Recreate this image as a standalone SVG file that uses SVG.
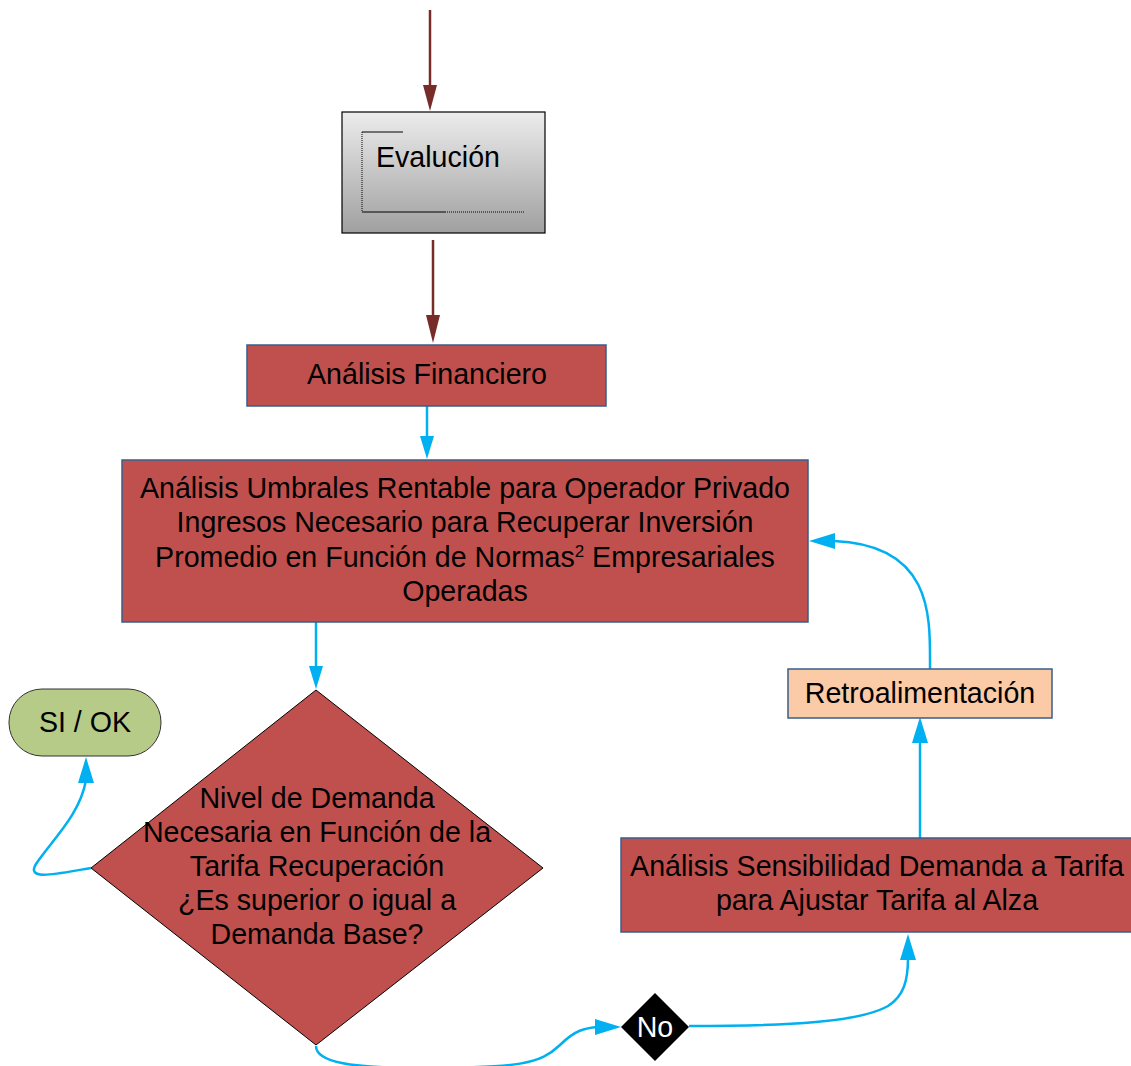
<svg xmlns="http://www.w3.org/2000/svg" width="1131" height="1066" viewBox="0 0 1131 1066">
<defs>
<linearGradient id="gray" x1="0" y1="0" x2="0" y2="1">
<stop offset="0" stop-color="#ececec"/>
<stop offset="1" stop-color="#a0a0a0"/>
</linearGradient>
</defs>
<style>
text{font-family:"Liberation Sans",Arial,sans-serif;font-size:28.6px;fill:#000;text-anchor:middle}
.red{fill:#C0504D;stroke:#385D8A;stroke-width:1.5}
.blue{fill:none;stroke:#00B0F0;stroke-width:2.5}
.brown{fill:none;stroke:#772C2A;stroke-width:2.5}
.hb{fill:#00B0F0}
.hr{fill:#772C2A}
</style>
<rect width="1131" height="1066" fill="#fff"/>
<g id="connectors">
<line class="brown" x1="430" y1="10" x2="430" y2="90"/>
<path class="hr" d="M423,85 L437,85 L430,111 z"/>
<line class="brown" x1="433" y1="240" x2="433" y2="320"/>
<path class="hr" d="M426,315 L440,315 L433,343 z"/>
<line class="blue" x1="427" y1="406" x2="427" y2="440"/>
<path class="hb" d="M420,436 L434,436 L427,459 z"/>
<line class="blue" x1="316" y1="622" x2="316" y2="670"/>
<path class="hb" d="M309,666 L323,666 L316,689 z"/>
<path class="blue" d="M91,868 C60,873 25,882 36,864 C52,840 80,815 86,780"/>
<path class="hb" d="M78,783 L94,783 L86,757 z"/>
<path class="blue" d="M316,1046 C316,1062 350,1068 420,1068 C520,1068 540,1064 560,1045 C575,1030 585,1028 598,1027"/>
<path class="hb" d="M595,1019 L595,1035 L621,1027 z"/>
<path class="blue" d="M689,1026 C790,1026 860,1022 888,1006 C904,996 908,980 908,958"/>
<path class="hb" d="M900,960 L916,960 L908,934 z"/>
<line class="blue" x1="920" y1="838" x2="920" y2="740"/>
<path class="hb" d="M912,743 L928,743 L920,717 z"/>
<path class="blue" d="M930,669 C930,620 935,545 834,541"/>
<path class="hb" d="M835,533 L835,549 L809,541 z"/>
</g>
<g id="evaluacion">
<rect x="342" y="112" width="203" height="121" fill="url(#gray)" stroke="#000" stroke-width="1.2"/>
<line x1="362" y1="132" x2="403" y2="132" stroke="#000" stroke-width="1"/>
<line x1="362" y1="132" x2="362" y2="212" stroke="#000" stroke-width="1" stroke-dasharray="1,1"/>
<line x1="362" y1="212" x2="445" y2="212" stroke="#000" stroke-width="1"/>
<line x1="445" y1="212" x2="525" y2="212" stroke="#000" stroke-width="1" stroke-dasharray="1,1"/>
<text x="376" y="167" style="text-anchor:start">Evalución</text>
</g>
<g id="financiero">
<rect class="red" x="247" y="345" width="359" height="61"/>
<text x="427" y="384">Análisis Financiero</text>
</g>
<g id="umbrales">
<rect class="red" x="122" y="460" width="686" height="162"/>
<text x="465" y="498">Análisis Umbrales Rentable para Operador Privado</text>
<text x="465" y="532">Ingresos Necesario para Recuperar Inversión</text>
<text x="465" y="567">Promedio en Función de Normas<tspan dy="-10" font-size="17">2</tspan><tspan dy="10"> Empresariales</tspan></text>
<text x="465" y="601">Operadas</text>
</g>
<g id="decision">
<path d="M316,690 L543,868 L316,1045 L91,868 z" fill="#C0504D" stroke="#000" stroke-width="1"/>
<text x="317" y="808">Nivel de Demanda</text>
<text x="317" y="842">Necesaria en Función de la</text>
<text x="317" y="876">Tarifa Recuperación</text>
<text x="317" y="910">¿Es superior o igual a</text>
<text x="317" y="944">Demanda Base?</text>
</g>
<g id="si-ok">
<rect x="9" y="689" width="152" height="67" rx="33" ry="33" fill="#B7CB89" stroke="#333" stroke-width="1"/>
<text x="85" y="732">SI / OK</text>
</g>
<g id="no">
<path d="M655,993 L689,1027 L655,1061 L621,1027 z" fill="#000"/>
<text x="655" y="1037" style="fill:#fff">No</text>
</g>
<g id="sensibilidad">
<rect class="red" x="621" y="838" width="512" height="94"/>
<text x="877" y="876">Análisis Sensibilidad Demanda a Tarifa</text>
<text x="877" y="910">para Ajustar Tarifa al Alza</text>
</g>
<g id="retro">
<rect x="788" y="669" width="264" height="49" fill="#FACBA6" stroke="#385D8A" stroke-width="1.5"/>
<text x="920" y="703">Retroalimentación</text>
</g>
</svg>
